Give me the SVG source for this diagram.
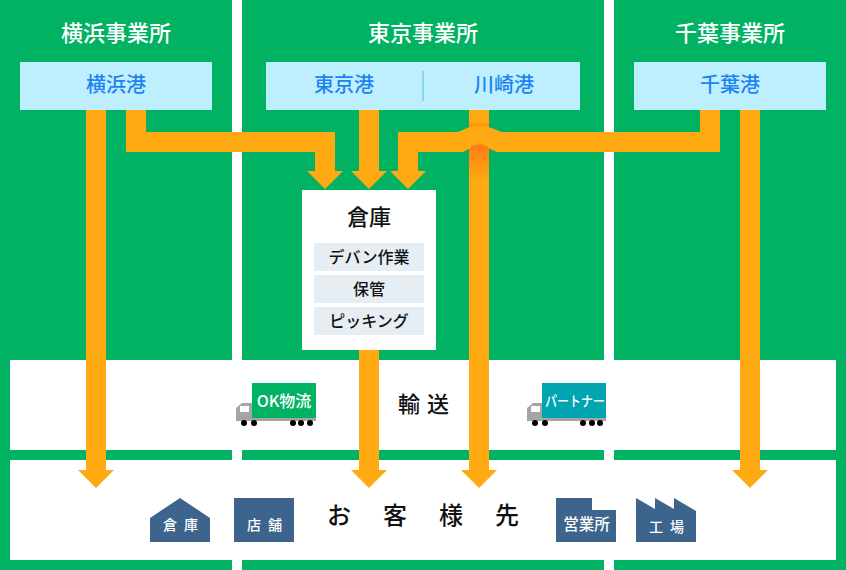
<svg xmlns="http://www.w3.org/2000/svg" width="846" height="570" viewBox="0 0 846 570">
<defs>
<linearGradient id="shade" x1="0" y1="0" x2="0" y2="1">
<stop offset="0" stop-color="#ff7b14"/><stop offset="1" stop-color="#ffa913"/>
</linearGradient>
<linearGradient id="shadeTop" x1="0" y1="0" x2="0" y2="1">
<stop offset="0" stop-color="#ffa913"/><stop offset="1" stop-color="#ff8a14"/>
</linearGradient>
</defs>
<style>
text{font-family:"Noto Sans CJK JP","Noto Sans",sans-serif;text-anchor:middle}
.flow{fill:#ffa913}
.site{font-size:22px;font-weight:500;fill:#fff}
.port{font-size:20px;font-weight:500;fill:#1e82f0}
.portbox{fill:#bdefff}
.band{fill:#fff}
.task{fill:#e6eef4}
.tasktext{font-size:16px;font-weight:500;fill:#111}
.place{fill:#3c648c}
.placetext{font-size:14px;font-weight:500;fill:#fff}
.gray{fill:#a5a5a5}
.wheel{fill:#000}
</style>
<rect width="846" height="570" fill="#00b261"/>
<rect x="232" width="10" height="570" fill="#fff"/>
<rect x="604" width="10" height="570" fill="#fff"/>

<g id="band-transport"><rect class="band" x="10" y="360" width="826" height="90"/></g>
<g id="band-customers"><rect class="band" x="10" y="460" width="826" height="100"/></g>

<g id="connectors">
<!-- Kawasaki trunk, shaded where the Chiba line bridges over it -->
<rect class="flow" x="469" y="110" width="20" height="360"/>
<rect x="469" y="121" width="20" height="6" fill="url(#shadeTop)"/>
<rect x="469" y="144" width="20" height="36" fill="url(#shade)"/>
<polygon class="flow" points="461,470 497,470 479,488"/>
<!-- Yokohama trunk -->
<rect class="flow" x="86" y="110" width="20" height="360"/>
<polygon class="flow" points="78,470 114,470 96,488"/>
<!-- Chiba trunk -->
<rect class="flow" x="740" y="110" width="20" height="360"/>
<polygon class="flow" points="732,470 768,470 750,488"/>
<!-- Tokyo into warehouse -->
<rect class="flow" x="359" y="110" width="20" height="61"/>
<polygon class="flow" points="351,171 387,171 369,189"/>
<!-- Yokohama branch into warehouse -->
<path class="flow" d="M126 110H146V132H335V171H315V152H126Z"/>
<polygon class="flow" points="307,171 343,171 325,189"/>
<!-- Chiba branch into warehouse, bridging the Kawasaki line -->
<path class="flow" d="M700 110H720V152H497L490 149C485 142.500 473 142.500 469 149L463 152H418V171H398V132H458L465 129C472 125 486 125 494 129L502 132H700Z"/>
<polygon class="flow" points="390,171 426,171 408,189"/>
<!-- Warehouse out to customers -->
<rect class="flow" x="359" y="350" width="20" height="120"/>
<polygon class="flow" points="351,470 387,470 369,488"/>
</g>

<g id="site-yokohama"><text class="site" x="116" y="41">横浜事業所</text></g>
<g id="site-tokyo"><text class="site" x="423" y="41">東京事業所</text></g>
<g id="site-chiba"><text class="site" x="730" y="41">千葉事業所</text></g>

<g id="port-yokohama"><rect class="portbox" x="20" y="62" width="192" height="48"/><text class="port" x="116" y="92">横浜港</text></g>
<g id="port-tokyo-kawasaki">
<rect class="portbox" x="266" y="62" width="314" height="48"/>
<line x1="423" y1="71" x2="423" y2="101" stroke="#8fd4f0" stroke-width="2"/>
<text class="port" x="344" y="92">東京港</text>
<text class="port" x="504" y="92">川崎港</text>
</g>
<g id="port-chiba"><rect class="portbox" x="634" y="62" width="192" height="48"/><text class="port" x="730" y="92">千葉港</text></g>

<g id="warehouse">
<rect x="302" y="190" width="134" height="160" fill="#fff"/>
<text x="369" y="225" font-size="22" font-weight="500" fill="#111">倉庫</text>
<rect class="task" x="314" y="243" width="110" height="28"/>
<text class="tasktext" x="369" y="263">デバン作業</text>
<rect class="task" x="314" y="275" width="110" height="28"/>
<text class="tasktext" x="369" y="295">保管</text>
<rect class="task" x="314" y="307" width="110" height="28"/>
<text class="tasktext" x="369" y="327">ピッキング</text>
</g>

<g id="truck-ok">
<path class="gray" d="M236 421V408L242 403H252V417H316V421Z"/>
<rect x="240" y="406" width="9" height="6" fill="#fff"/>
<rect x="252" y="383" width="64" height="35" fill="#00b261"/>
<text x="284" y="407" font-size="16" font-weight="500" fill="#fff">OK物流</text>
<g class="wheel"><circle cx="244" cy="423" r="3"/><circle cx="254" cy="423" r="3"/><circle cx="293" cy="423" r="3"/><circle cx="301" cy="423" r="3"/><circle cx="310" cy="423" r="3"/></g>
</g>

<g id="label-transport"><text x="409 438" y="412" font-size="22" font-weight="500" fill="#111">輸送</text></g>

<g id="truck-partner">
<path class="gray" d="M527 421V408L533 403H543V417H606V421Z"/>
<rect x="531" y="406" width="9" height="6" fill="#fff"/>
<rect x="542" y="383" width="64" height="35" fill="#00a5b0"/>
<text x="575" y="406" font-size="14" font-weight="500" fill="#fff" textLength="60" lengthAdjust="spacingAndGlyphs">パートナー</text>
<g class="wheel"><circle cx="535" cy="423" r="3"/><circle cx="545" cy="423" r="3"/><circle cx="583" cy="423" r="3"/><circle cx="592" cy="423" r="3"/><circle cx="600" cy="423" r="3"/></g>
</g>

<g id="place-warehouse">
<polygon class="place" points="150,518 180,498 210,518 210,542 150,542"/>
<text class="placetext" x="170 191" y="530">倉庫</text>
</g>
<g id="place-store">
<rect class="place" x="234" y="498" width="60" height="44"/>
<text class="placetext" x="254 275" y="530">店舗</text>
</g>
<g id="label-customers"><text x="339 395 451 507" y="524" font-size="24" font-weight="500" fill="#111">お客様先</text></g>
<g id="place-office">
<polygon class="place" points="556,498 592,498 592,510 616,510 616,542 556,542"/>
<text x="586.500" y="530" font-size="15.500" font-weight="500" fill="#fff">営業所</text>
</g>
<g id="place-factory">
<polygon class="place" points="636,498 655,509 655,498 674,509 674,498 696,511 696,542 636,542"/>
<text class="placetext" x="656 677" y="532">工場</text>
</g>
</svg>
